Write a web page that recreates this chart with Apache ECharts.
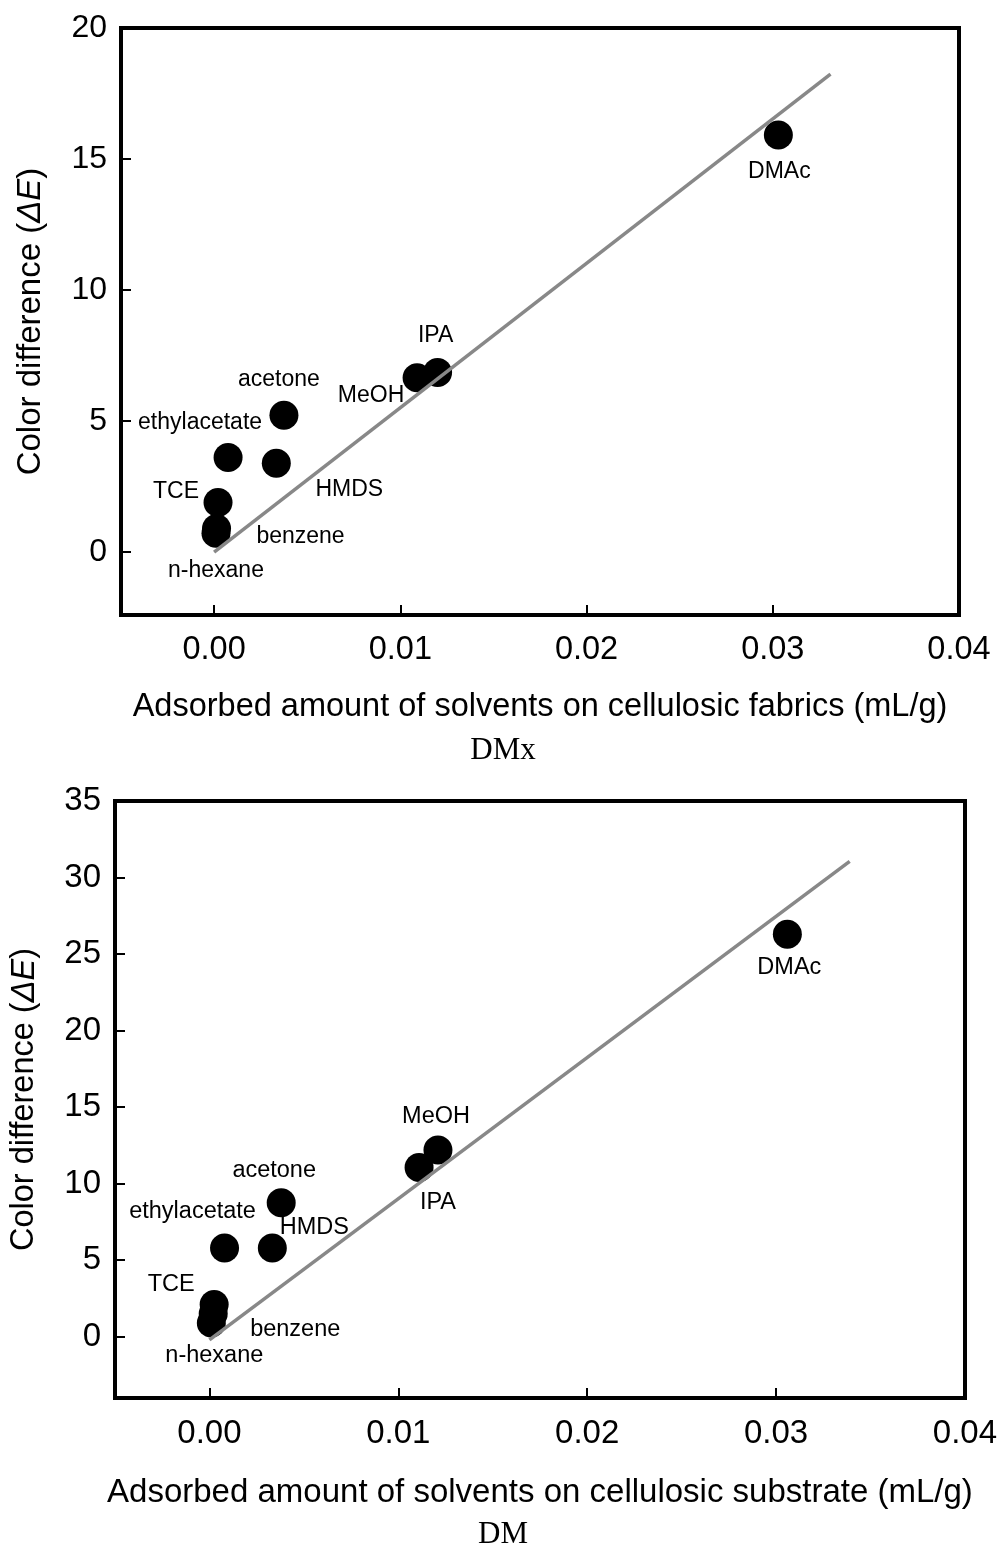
<!DOCTYPE html>
<html>
<head>
<meta charset="utf-8">
<script src="https://cdn.jsdelivr.net/npm/echarts@6/dist/echarts.min.js"></script>
<style>
  html, body { margin: 0; background: #fff; }
  #chart { width: 1000px; height: 1548px; }
</style>
</head>
<body>
<div id="chart"></div>
<script>
// solvents, same order in both panels
const solvents = ['DMAc', 'IPA', 'MeOH', 'acetone', 'ethylacetate', 'HMDS', 'TCE', 'benzene', 'n-hexane'];

// upper panel (DMx): adsorbed amount (mL/g) vs colour difference
const dmxAmount = [0.0303, 0.0120, 0.0109, 0.00375, 0.00075, 0.00334, 0.00021, 0.00013, 0.0001];
const dmxDeltaE = [15.92, 6.85, 6.65, 5.22, 3.61, 3.39, 1.89, 0.90, 0.72];
const dmxFitX = [0, 0.0331];
const dmxFitY = [0, 18.24];
const dmxYTicks = [0, 5, 10, 15, 20];

// lower panel (DM)
const dmAmount = [0.0306, 0.0121, 0.0111, 0.0038, 0.0008, 0.00333, 0.00025, 0.0002, 0.0001];
const dmDeltaE = [26.3, 12.2, 11.05, 8.75, 5.8, 5.8, 2.1, 1.5, 0.9];
const dmFitX = [0, 0.0339];
const dmFitY = [-0.2, 31.06];
const dmYTicks = [0, 5, 10, 15, 20, 25, 30, 35];

const xTicks = [0, 0.01, 0.02, 0.03, 0.04];

// where each solvent name sits relative to its dot (px)
const dmxLabelOffset = {
  'DMAc': [1, 37], 'IPA': [-2, -37], 'MeOH': [-46, 18], 'acetone': [-5, -36],
  'ethylacetate': [-28, -35], 'HMDS': [73, 26], 'TCE': [-42, -11],
  'benzene': [84, 8], 'n-hexane': [0, 37]
};
const dmLabelOffset = {
  'DMAc': [2, 33], 'IPA': [0, 53], 'MeOH': [17, -51], 'acetone': [-7, -32],
  'ethylacetate': [-32, -36], 'HMDS': [42, -20], 'TCE': [-43, -20],
  'benzene': [82, 16], 'n-hexane': [3, 33]
};

const sans = 'Liberation Sans, Arial, sans-serif';
const serif = 'Liberation Serif, Times New Roman, serif';

function points(xs, ys, offsets) {
  return solvents.map((name, i) => ({
    name,
    value: [xs[i], ys[i]],
    label: { offset: offsets[name] }
  }));
}

function frameLine() {
  return { color: '#000', width: 4, cap: 'square' };
}

// the main axes sit "on zero" of a helper axis whose zero is the box edge
function xAxis(gridIndex, helperIndex, name, fontSize, nameGap) {
  return {
    type: 'value', gridIndex, min: -0.005, max: 0.04,
    name, nameLocation: 'middle', nameGap,
    nameTextStyle: { fontSize, fontFamily: sans, color: '#000' },
    splitLine: { show: false },
    axisLine: { show: true, onZero: true, onZeroAxisIndex: helperIndex, lineStyle: frameLine() },
    axisTick: { show: true, inside: true, length: 10, customValues: xTicks, lineStyle: { color: '#000', width: 2 } },
    axisLabel: { customValues: xTicks, margin: 19, fontSize, fontFamily: sans, color: '#000',
      formatter: v => v.toFixed(2) }
  };
}

function yAxis(gridIndex, helperIndex, min, max, ticks, fontSize, nameSize, nameGap) {
  return {
    type: 'value', gridIndex, min, max,
    name: 'Color difference ({i|ΔE})', nameLocation: 'middle', nameGap,
    nameTextStyle: { fontSize: nameSize, fontFamily: sans, color: '#000',
      rich: { i: { fontSize: nameSize, fontFamily: sans, fontStyle: 'italic', color: '#000' } } },
    splitLine: { show: false },
    axisLine: { show: true, onZero: true, onZeroAxisIndex: helperIndex, lineStyle: frameLine() },
    axisTick: { show: true, inside: true, length: 10, customValues: ticks, lineStyle: { color: '#000', width: 2 } },
    axisLabel: { customValues: ticks, margin: 14, fontSize, fontFamily: sans, color: '#000' }
  };
}

// top / right edges of the box: bare axis lines, range 0..1 so their zero is the far edge
function edgeAxis(gridIndex, position) {
  return {
    type: 'value', gridIndex, position, min: 0, max: 1,
    axisLine: { show: true, onZero: false, lineStyle: frameLine() },
    axisTick: { show: false }, axisLabel: { show: false }, splitLine: { show: false }
  };
}

const chart = echarts.init(document.getElementById('chart'));
chart.setOption({
  animation: false,
  backgroundColor: '#fff',
  grid: [
    { left: 121, top: 28, width: 838, height: 587 },
    { left: 113, top: 801, width: 854, height: 597 }
  ],
  xAxis: [
    xAxis(0, 2, 'Adsorbed amount of solvents on cellulosic fabrics (mL/g)', 32.5, 76),
    xAxis(1, 3, 'Adsorbed amount of solvents on cellulosic substrate (mL/g)', 33, 78),
    edgeAxis(0, 'top'),
    edgeAxis(1, 'top')
  ],
  yAxis: [
    yAxis(0, 2, -2.4, 20, dmxYTicks, 32, 33, 74),
    yAxis(1, 3, -4, 35, dmYTicks, 33, 32.5, 74),
    edgeAxis(0, 'right'),
    edgeAxis(1, 'right')
  ],
  graphic: [
    { type: 'text', x: 503, y: 735, style: { text: 'DMx', font: '31px ' + serif, fill: '#000', textAlign: 'center' } },
    { type: 'text', x: 503, y: 1519, style: { text: 'DM', font: '31px ' + serif, fill: '#000', textAlign: 'center' } }
  ],
  series: [
    {
      type: 'scatter', xAxisIndex: 0, yAxisIndex: 0, symbolSize: 29,
      itemStyle: { color: '#000', opacity: 1 },
      label: { show: true, position: 'inside', formatter: '{b}', fontSize: 23, fontFamily: sans, color: '#000' },
      data: points(dmxAmount, dmxDeltaE, dmxLabelOffset), z: 2
    },
    {
      type: 'line', xAxisIndex: 0, yAxisIndex: 0, symbol: 'none', z: 3,
      lineStyle: { color: '#888', width: 3.5 },
      data: dmxFitX.map((x, i) => [x, dmxFitY[i]])
    },
    {
      type: 'scatter', xAxisIndex: 1, yAxisIndex: 1, symbolSize: 29,
      itemStyle: { color: '#000', opacity: 1 },
      label: { show: true, position: 'inside', formatter: '{b}', fontSize: 23.5, fontFamily: sans, color: '#000' },
      data: points(dmAmount, dmDeltaE, dmLabelOffset), z: 2
    },
    {
      type: 'line', xAxisIndex: 1, yAxisIndex: 1, symbol: 'none', z: 3,
      lineStyle: { color: '#888', width: 3.5 },
      data: dmFitX.map((x, i) => [x, dmFitY[i]])
    }
  ]
});
</script>
</body>
</html>
